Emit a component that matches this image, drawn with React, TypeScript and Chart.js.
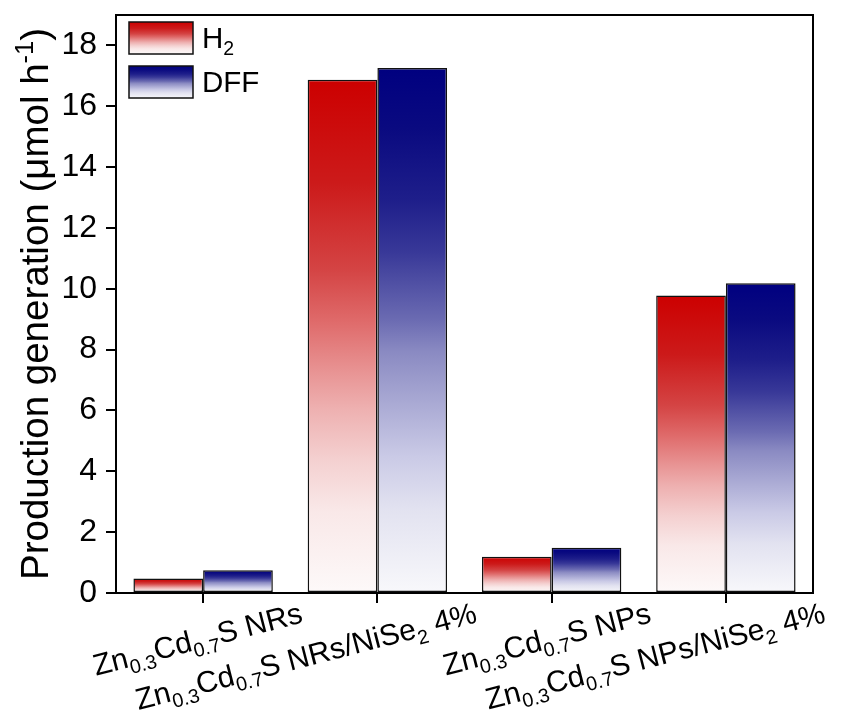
import React, { useEffect, useRef } from "react";
import { Chart, registerables } from "chart.js";

Chart.register(...registerables);

// ---- data ----
const categories = [
  "Zn_{0.3}Cd_{0.7}S NRs",
  "Zn_{0.3}Cd_{0.7}S NRs/NiSe_{2} 4%",
  "Zn_{0.3}Cd_{0.7}S NPs",
  "Zn_{0.3}Cd_{0.7}S NPs/NiSe_{2} 4%",
];
const seriesNames = ["H_{2}", "DFF"];
const h2Values = [0.48, 16.87, 1.19, 9.78];
const dffValues = [0.75, 17.26, 1.49, 10.18];
const yTickValues = [0, 2, 4, 6, 8, 10, 12, 14, 16, 18];
const yAxisTitle = "Production generation (μmol h^{-1})";

// ---- style ----
const FONT = '"Liberation Sans", Arial, Helvetica, sans-serif';
const redStops: [number, string][] = [
  [0, "#cc0000"],
  [0.2, "#cc1a1a"],
  [0.37, "#d44444"],
  [0.47, "#df6a6a"],
  [0.57, "#e89494"],
  [0.64, "#eeb0b0"],
  [0.74, "#f4d0d0"],
  [0.84, "#f9e8e8"],
  [1, "#fdf9f9"],
];
const blueStops: [number, string][] = [
  [0, "#000080"],
  [0.115, "#0a0a80"],
  [0.25, "#1e1e8a"],
  [0.35, "#383898"],
  [0.41, "#5050a4"],
  [0.48, "#6b6bb2"],
  [0.54, "#8a8ac2"],
  [0.64, "#aaaad4"],
  [0.74, "#cacae6"],
  [0.84, "#e2e2f0"],
  [1, "#f8f8fb"],
];

type Seg = { t: string; k: "n" | "sub" | "sup" };
function parseRich(s: string): Seg[] {
  const parts = s.split(/(_\{[^}]*\}|\^\{[^}]*\})/).filter((p) => p.length);
  return parts.map((p) => {
    if (p.startsWith("_{")) return { t: p.slice(2, -1), k: "sub" as const };
    if (p.startsWith("^{")) return { t: p.slice(2, -1), k: "sup" as const };
    return { t: p, k: "n" as const };
  });
}
const SCRIPT_SCALE = 0.66;
function drawRich(
  ctx: CanvasRenderingContext2D,
  s: string,
  x: number,
  y: number,
  size: number,
  align: "left" | "center" | "right"
) {
  const segs = parseRich(s);
  const widths = segs.map((sg) => {
    ctx.font = `${sg.k === "n" ? size : size * SCRIPT_SCALE}px ${FONT}`;
    return ctx.measureText(sg.t).width;
  });
  const total = widths.reduce((a, b) => a + b, 0);
  let cx = align === "left" ? x : align === "center" ? x - total / 2 : x - total;
  ctx.textAlign = "left";
  ctx.textBaseline = "alphabetic";
  ctx.fillStyle = "#000";
  segs.forEach((sg, i) => {
    const fs = sg.k === "n" ? size : size * SCRIPT_SCALE;
    const dy = sg.k === "sub" ? size * 0.24 : sg.k === "sup" ? -size * 0.4 : 0;
    ctx.font = `${fs}px ${FONT}`;
    ctx.fillText(sg.t, cx, y + dy);
    cx += widths[i];
  });
}

function makeGrad(c: any, stops: [number, string][]) {
  const chart = c.chart;
  const ys = chart.scales && chart.scales.y;
  if (!ys || c.type !== "data") return stops[0][1];
  const top = ys.getPixelForValue(c.raw as number);
  const base = ys.getPixelForValue(0);
  if (!isFinite(top) || !isFinite(base) || Math.abs(base - top) < 0.5) return stops[0][1];
  const g = chart.ctx.createLinearGradient(0, top, 0, base);
  stops.forEach(([o, col]) => g.addColorStop(o, col));
  return g;
}

const overlayPlugin = {
  id: "overlay",
  afterDraw(chart: any) {
    const ctx: CanvasRenderingContext2D = chart.ctx;
    const { left, right, top, bottom } = chart.chartArea;
    ctx.save();
    // frame
    ctx.strokeStyle = "#000";
    ctx.lineWidth = 2;
    ctx.strokeRect(left, top, right - left, bottom - top);

    // x labels (rotated, with subscripts)
    const xs = chart.scales.x;
    categories.forEach((lab, i) => {
      const px = xs.getPixelForValue(i);
      ctx.save();
      ctx.translate(px + 101, bottom + 29);
      ctx.rotate((-14.5 * Math.PI) / 180);
      drawRich(ctx, lab, 0, 0, 30, "right");
      ctx.restore();
    });

    // y title
    ctx.save();
    ctx.translate(48, (top + bottom) / 2);
    ctx.rotate(-Math.PI / 2);
    drawRich(ctx, yAxisTitle, 0, 0, 38.5, "center");
    ctx.restore();

    // legend
    const stopsList = [redStops, blueStops];
    seriesNames.forEach((name, i) => {
      const bx = left + 13;
      const by = top + 7 + i * 44;
      const bw = 64;
      const bh = 32;
      const g = ctx.createLinearGradient(0, by, 0, by + bh);
      stopsList[i].forEach(([o, col]) => g.addColorStop(o, col));
      ctx.fillStyle = g;
      ctx.fillRect(bx, by, bw, bh);
      ctx.strokeStyle = "#111";
      ctx.lineWidth = 1.5;
      ctx.strokeRect(bx, by, bw, bh);
      drawRich(ctx, name, bx + bw + 9, by + bh / 2 + 10, 29.5, "left");
    });
    ctx.restore();
  },
};

export default function App() {
  const ref = useRef<HTMLCanvasElement | null>(null);
  useEffect(() => {
    if (!ref.current) return;
    const chart = new Chart(ref.current, {
      type: "bar",
      data: {
        labels: categories,
        datasets: [
          {
            label: seriesNames[0],
            data: h2Values,
            backgroundColor: (c: any) => makeGrad(c, redStops),
            borderColor: "#111",
            borderWidth: 1.5,
            borderSkipped: false,
            categoryPercentage: 0.8,
            barPercentage: 1.0,
          },
          {
            label: seriesNames[1],
            data: dffValues,
            backgroundColor: (c: any) => makeGrad(c, blueStops),
            borderColor: "#111",
            borderWidth: 1.5,
            borderSkipped: false,
            categoryPercentage: 0.8,
            barPercentage: 1.0,
          },
        ],
      },
      options: {
        animation: false,
        responsive: true,
        maintainAspectRatio: false,
        layout: { padding: { top: 15, right: 38, left: 0, bottom: 0 } },
        plugins: { legend: { display: false }, tooltip: { enabled: false } },
        scales: {
          x: {
            ticks: { display: false },
            grid: {
              offset: false,
              drawOnChartArea: false,
              drawTicks: true,
              tickLength: 10,
              color: "#000",
              lineWidth: 2,
            },
            border: { display: true, color: "#000", width: 2 },
            afterFit: (s: any) => {
              s.height = 122;
              s.paddingLeft = 0;
              s.paddingRight = 0;
            },
          },
          y: {
            min: 0,
            max: 19,
            ticks: {
              stepSize: 2,
              includeBounds: false,
              color: "#000",
              font: { family: FONT, size: 32 },
              padding: 9,
            },
            afterBuildTicks: (s: any) => {
              s.ticks = yTickValues.map((v) => ({ value: v }));
            },
            grid: {
              drawOnChartArea: false,
              drawTicks: true,
              tickLength: 10,
              color: "#000",
              lineWidth: 2,
            },
            border: { display: true, color: "#000", width: 2 },
            afterFit: (s: any) => {
              s.width = 116;
              s.paddingTop = 0;
              s.paddingBottom = 0;
            },
          },
        },
      },
      plugins: [overlayPlugin],
    } as any);
    return () => chart.destroy();
  }, []);
  return (
    <div style={{ position: "absolute", left: 0, top: 0, width: 851, height: 715, background: "#fff" }}>
      <canvas ref={ref} />
    </div>
  );
}
